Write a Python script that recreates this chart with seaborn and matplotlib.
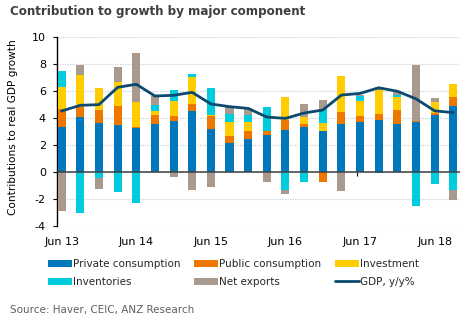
import numpy as np
import pandas as pd
import matplotlib
matplotlib.use("Agg")
import matplotlib.pyplot as plt
import seaborn as sns

quarters = ["Jun 13", "Sep 13", "Dec 13", "Mar 14", "Jun 14", "Sep 14", "Dec 14", "Mar 15",
            "Jun 15", "Sep 15", "Dec 15", "Mar 16", "Jun 16", "Sep 16", "Dec 16", "Mar 17",
            "Jun 17", "Sep 17", "Dec 17", "Mar 18", "Jun 18", "Sep 18"]
private_consumption = [3.37, 4.08, 3.64, 3.51, 3.29, 3.59, 3.76, 4.55, 3.22, 2.16, 2.46, 2.73,
                       3.14, 3.34, 3.07, 3.54, 3.73, 3.88, 3.56, 3.69, 4.23, 4.91]
public_consumption = [1.30, 0.71, 0.96, 1.38, 0.05, 0.61, 0.42, 0.51, 0.91, 0.49, 0.59, 0.32,
                      0.69, 0.22, -0.76, 0.91, 0.40, 0.44, 1.04, 0.07, 0.17, 0.62]
investment = [1.60, 2.38, 1.64, 1.74, 1.87, 0.35, 1.10, 1.99, 0.07, 1.06, 0.66, 0.00,
              1.72, 0.49, 0.54, 2.65, 1.13, 1.75, 0.98, 0.05, 0.81, 0.96]
inventories = [1.20, -3.02, -0.44, -1.50, -2.29, 0.41, 0.79, 0.20, 1.99, 0.61, 0.52, 1.77,
               -1.30, -0.71, 1.06, 0.00, 0.37, -0.10, 0.10, -2.53, -0.88, -1.30]
net_exports = [-2.90, 0.79, -0.81, 1.16, 3.61, 0.69, -0.39, -1.30, -1.13, 0.47, 0.51, -0.74,
               -0.30, 1.01, 0.66, -1.43, 0.07, 0.20, 0.27, 4.13, 0.24, -0.79]
gdp = [4.52, 4.94, 4.99, 6.27, 6.50, 5.63, 5.68, 5.90, 5.04, 4.84, 4.71, 4.07,
       3.97, 4.37, 4.59, 5.70, 5.82, 6.24, 5.98, 5.42, 4.53, 4.40]
tick_labels = ["Jun 13", "Jun 14", "Jun 15", "Jun 16", "Jun 17", "Jun 18"]

components = {
    "Private consumption": private_consumption,
    "Public consumption": public_consumption,
    "Investment": investment,
    "Inventories": inventories,
    "Net exports": net_exports,
}
colors = {
    "Private consumption": "#0077BB",
    "Public consumption": "#EE7700",
    "Investment": "#FFCC00",
    "Inventories": "#00CCDD",
    "Net exports": "#AA9A8E",
}
line_color = "#0B4A6E"

sns.set_theme(style="white")
plt.rcParams["font.family"] = ["DejaVu Sans"]
plt.rcParams["axes.unicode_minus"] = False

fig = plt.figure(figsize=(4.72, 3.26), dpi=100)
ax = fig.add_axes([57 / 472, 1 - 226 / 326, 403 / 472, 189 / 326])

df = pd.DataFrame({"quarter": quarters, "gdp": gdp})
df["x"] = np.arange(len(quarters))
x = df["x"].to_numpy()

pos_base = np.zeros(len(quarters))
neg_base = np.zeros(len(quarters))
handles = {}
for name, vals in components.items():
    v = np.asarray(vals, dtype=float)
    bottoms = np.where(v >= 0, pos_base, neg_base)
    bars = ax.bar(x, v, bottom=bottoms, width=0.43, color=colors[name],
                  edgecolor="none", label=name, zorder=3)
    handles[name] = bars
    pos_base = pos_base + np.where(v >= 0, v, 0)
    neg_base = neg_base + np.where(v < 0, v, 0)

sns.lineplot(data=df, x="x", y="gdp", ax=ax, color=line_color, linewidth=2,
             label="GDP, y/y%", zorder=5, legend=False)

ax.set_xlim(-0.25, 21.36)
ax.set_ylim(-4, 10)
ax.set_yticks(range(-4, 11, 2))
ax.set_yticklabels([str(t) for t in range(-4, 11, 2)])
ax.set_xticks(x[::4])
ax.set_xticklabels(tick_labels)
ax.set_xlabel("")
ax.set_ylabel("")

ax.grid(axis="y", color="#C9D2DA", linestyle=(0, (1, 1)), linewidth=0.9, zorder=0)
ax.grid(axis="x", visible=False)
ax.axhline(0, color="#404040", linewidth=1.1, zorder=4)

for s in ["top", "right", "bottom"]:
    ax.spines[s].set_visible(False)
ax.spines["left"].set_color("black")
ax.spines["left"].set_linewidth(1.0)

ax.tick_params(axis="y", which="both", left=True, direction="out", length=3, width=0.8,
               color="black", labelsize=8, pad=5, labelcolor="black")
ax.tick_params(axis="x", which="both", bottom=False, length=0, labelsize=8, pad=8,
               labelcolor="black")

sec = ax.secondary_xaxis(4 / 14)
sec.set_xticks(x[::4] - 0.15)
sec.set_xticklabels([])
sec.tick_params(axis="x", direction="out", length=3, width=0.8, color="black")
sec.spines["bottom"].set_visible(False)

fig.text(10 / 472, 1 - 12 / 326, "Contribution to growth by major component",
         fontsize=8.6, fontweight="bold", color="#3F3F3F", va="center", ha="left")
fig.text(13 / 472, 1 - 127 / 326, "Contributions to real GDP growth", rotation=90,
         fontsize=7.6, color="black", va="center", ha="center")
fig.text(10 / 472, 1 - 310 / 326, "Source: Haver, CEIC, ANZ Research",
         fontsize=7.5, color="#5F5F5F", va="center", ha="left")

line_handle = matplotlib.lines.Line2D([], [], color=line_color, linewidth=2)
order = [handles["Private consumption"], handles["Inventories"],
         handles["Public consumption"], handles["Net exports"],
         handles["Investment"], line_handle]
labels = ["Private consumption", "Inventories", "Public consumption", "Net exports",
          "Investment", "GDP, y/y%"]
fig.legend(order, labels, ncol=3, loc="upper left",
           bbox_to_anchor=(48 / 472, 1 - 259 / 326), frameon=False, fontsize=7.5,
           handlelength=2.3, handleheight=0.7, handletextpad=0.1, columnspacing=1.3,
           labelspacing=0.75, borderaxespad=0, borderpad=0)

fig.savefig("out.png", dpi=100)
